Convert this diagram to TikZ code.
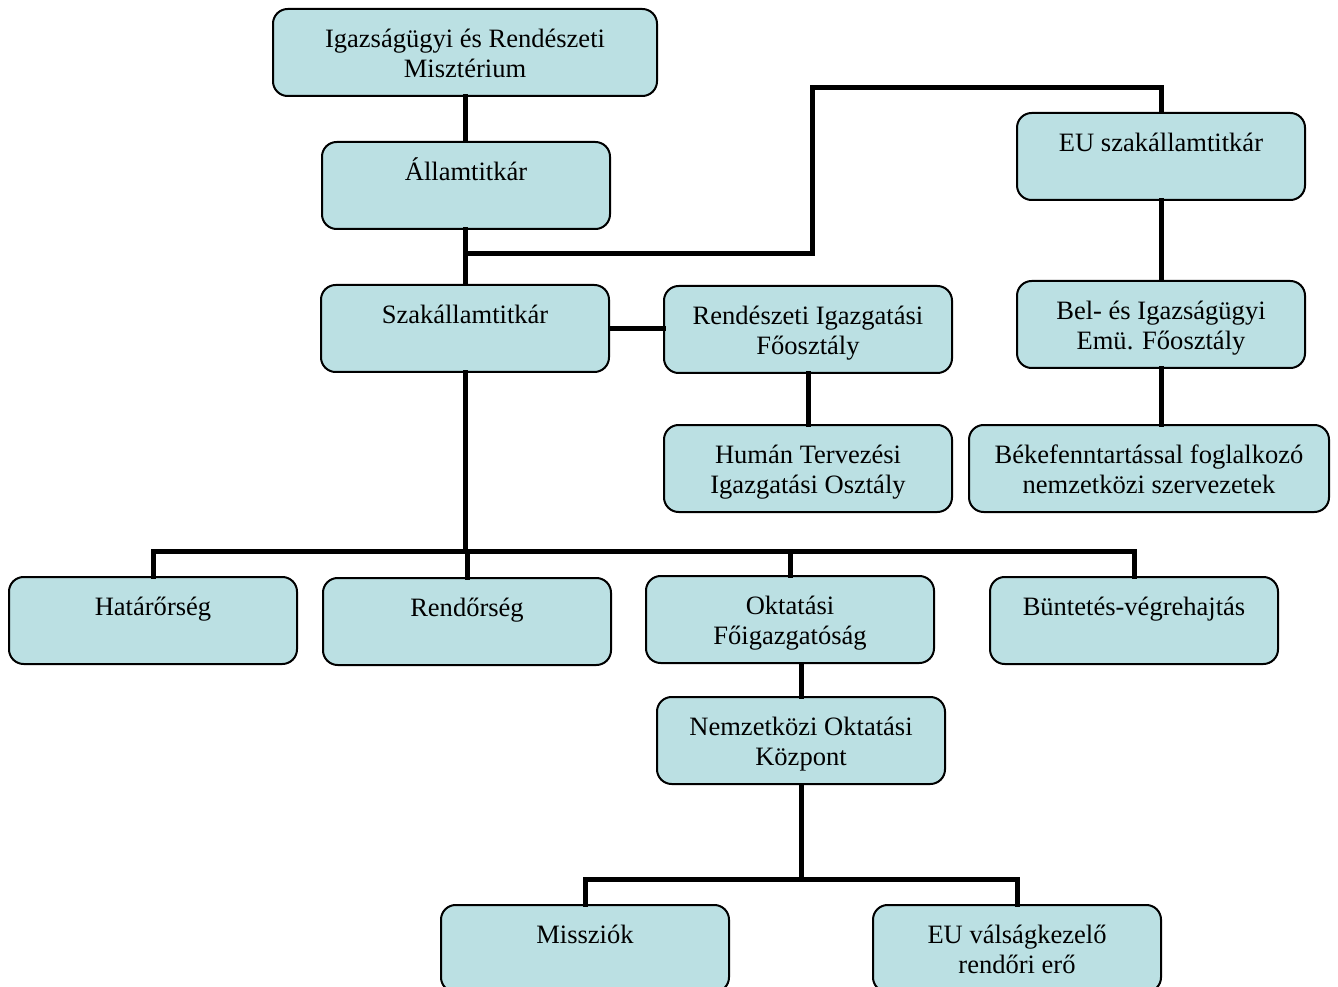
\documentclass[tikz,border=0pt]{standalone}
\usepackage{fontspec}
\setmainfont{Liberation Serif}
\definecolor{boxfill}{RGB}{187,224,227}
\newcommand\tl[1]{\begin{tabular}[t]{@{}c@{}}#1\end{tabular}}
\begin{document}
\begin{tikzpicture}[x=0.75pt,y=-0.75pt,
  box/.style={draw=black, line width=1.5pt, fill=boxfill, rounded corners=11pt,
    inner sep=0pt, minimum width=216pt, text height=28.9pt, text depth=36.35pt,
    anchor=north, font=\fontsize{19.9}{22.5}\selectfont},
  conn/.style={line width=3.75pt, line cap=rect}]
\useasboundingbox (0,0) rectangle (1338,987);

% connectors first (behind boxes)
\coordinate (j1) at (465,254);
\coordinate (k) at (812,88);
\coordinate (bus) at (465,551);
\coordinate (nkbus) at (801,879);

\node[box, minimum width=288pt] (min) at (465,8) {\tl{Igazságügyi és Rendészeti\\Misztérium}};
\node[box] (all) at (466,141) {\tl{Államtitkár}};
\node[box] (eus) at (1161,112) {\tl{EU szakállamtitkár}};
\node[box] (szak) at (465,284) {\tl{Szakállamtitkár}};
\node[box] (rig) at (808,285) {\tl{Rendészeti Igazgatási\\Főosztály}};
\node[box] (bel) at (1161,280) {\tl{Bel- és Igazságügyi\\Emü. Főosztály}};
\node[box] (hum) at (808,424) {\tl{Humán Tervezési\\Igazgatási Osztály}};
\node[box, minimum width=270pt] (bek) at (1149,424) {\tl{Békefenntartással foglalkozó\\nemzetközi szervezetek}};
\node[box] (hat) at (153,576) {\tl{Határőrség}};
\node[box] (ren) at (467,577) {\tl{Rendőrség}};
\node[box] (okt) at (790,575) {\tl{Oktatási\\Főigazgatóság}};
\node[box] (bun) at (1134,576) {\tl{Büntetés-végrehajtás}};
\node[box] (nk) at (801,696) {\tl{Nemzetközi Oktatási\\Központ}};
\node[box] (mis) at (585,904) {\tl{Missziók}};
\node[box] (euv) at (1017,904) {\tl{EU válságkezelő\\rendőri erő}};

\begin{scope}[conn]
\draw (min.south) -- (min.south |- all.north);
\draw (all.south -| szak.north) -- (szak.north);
\draw (j1) -| (k) -| (eus.north);
\draw (eus.south) -- (bel.north);
\draw (bel.south) -- (bel.south |- bek.north);
\draw (szak.east) -- (szak.east -| rig.west);
\draw (rig.south) -- (hum.north);
\draw (szak.south) -- (bus);
\draw (hat.north) |- (bus) -| (bun.north);
\draw (ren.north) -- (ren.north |- bus);
\draw (okt.north) -- (okt.north |- bus);
\draw (okt.south -| nk.north) -- (nk.north);
\draw (nk.south) -- (nkbus);
\draw (mis.north) |- (nkbus) -| (euv.north);
\end{scope}
\end{tikzpicture}
\end{document}
